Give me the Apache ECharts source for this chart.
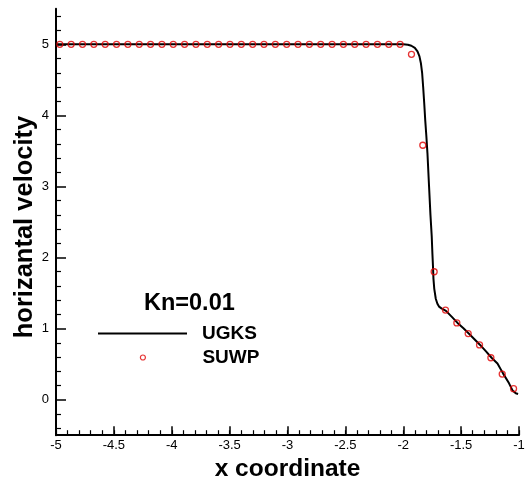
<!DOCTYPE html>
<html>
<head>
<meta charset="utf-8">
<script src="https://cdn.jsdelivr.net/npm/echarts@6.0.0/dist/echarts.min.js"></script>
<style>html,body{margin:0;padding:0;background:#fff}#c{width:526px;height:479px}</style>
</head>
<body>
<div id="c"></div>
<script>
// UGKS solution curve
var ugksX = [-5.0, -4.0, -3.0, -2.5, -2.1, -2.0, -1.96, -1.93, -1.90, -1.877, -1.86, -1.847, -1.837, -1.828, -1.818, -1.81, -1.80, -1.791, -1.777, -1.765, -1.754, -1.748, -1.743, -1.739, -1.732, -1.719, -1.705, -1.691, -1.67, -1.631, -1.58, -1.531, -1.48, -1.434, -1.385, -1.336, -1.285, -1.237, -1.186, -1.138, -1.086, -1.056, -1.028, -1.008];
var ugksY = [5.0, 5.0, 5.0, 5.0, 5.0, 5.0, 4.995, 4.98, 4.95, 4.90, 4.83, 4.73, 4.60, 4.40, 4.15, 3.93, 3.70, 3.47, 3.0, 2.6, 2.3, 2.05, 1.87, 1.70, 1.56, 1.42, 1.35, 1.31, 1.285, 1.25, 1.165, 1.08, 1.005, 0.93, 0.85, 0.77, 0.68, 0.59, 0.51, 0.37, 0.23, 0.13, 0.09, 0.08];
// SUWP samples
var suwpX = [-4.967, -4.869, -4.771, -4.673, -4.575, -4.477, -4.379, -4.281, -4.183, -4.085, -3.987, -3.889, -3.791, -3.693, -3.595, -3.497, -3.399, -3.301, -3.203, -3.105, -3.007, -2.909, -2.811, -2.713, -2.615, -2.517, -2.419, -2.321, -2.223, -2.125, -2.027, -1.929, -1.831, -1.733, -1.635, -1.537, -1.439, -1.341, -1.243, -1.145, -1.047];
var suwpY = [5.0, 5.0, 5.0, 5.0, 5.0, 5.0, 5.0, 5.0, 5.0, 5.0, 5.0, 5.0, 5.0, 5.0, 5.0, 5.0, 5.0, 5.0, 5.0, 5.0, 5.0, 5.0, 5.0, 5.0, 5.0, 5.0, 5.0, 5.0, 5.0, 5.0, 5.0, 4.86, 3.58, 1.80, 1.26, 1.08, 0.93, 0.77, 0.59, 0.36, 0.155];
// axis ticks
var yMajorTicks = [0, 1, 2, 3, 4, 5];
var yMinorTicks = [-0.4, -0.2, 0.2, 0.4, 0.6, 0.8, 1.2, 1.4, 1.6, 1.8, 2.2, 2.4, 2.6, 2.8, 3.2, 3.4, 3.6, 3.8, 4.2, 4.4, 4.6, 4.8, 5.2, 5.4];
var seriesNames = ['UGKS', 'SUWP'];
var annotation = 'Kn=0.01';
var xTitle = 'x coordinate';
var yTitle = 'horizantal velocity';

function zip(a, b) { return a.map(function (v, i) { return [v, b[i]]; }); }

var FONT = '"Liberation Sans", Arial, Helvetica, sans-serif';
var RED = '#e00000';
var chart = echarts.init(document.getElementById('c'), null, {renderer: 'canvas'});
chart.setOption({
  animation: false,
  backgroundColor: '#fff',
  grid: {left: 56, right: 7, top: 8.8, bottom: 43.8, outerBoundsMode: 'none'},
  title: {
    text: annotation, left: 139, top: 287,
    textStyle: {fontFamily: FONT, fontSize: 23.5, fontWeight: 'bold', color: '#000'}
  },
  legend: [
    {data: [{name: seriesNames[0], icon: 'rect', itemStyle: {color: '#000'}}],
     left: 98, top: 324, padding: 0, itemWidth: 89, itemHeight: 2,
     textStyle: {fontFamily: FONT, fontSize: 19, fontWeight: 'bold', color: '#000', padding: [0, 0, 0, 10]}},
    {data: [{name: seriesNames[1], icon: 'circle', itemStyle: {color: 'rgba(0,0,0,0)', borderColor: RED, borderWidth: 1.2}}],
     left: 139.8, top: 348, padding: 0, itemWidth: 5, itemHeight: 5,
     textStyle: {fontFamily: FONT, fontSize: 19, fontWeight: 'bold', color: '#000', padding: [0, 0, 0, 52]}}
  ],
  xAxis: [
    {
      type: 'value', min: -5, max: -1, interval: 0.1,
      axisLine: {show: true, onZero: false, lineStyle: {color: '#000', width: 2}},
      axisTick: {show: true, inside: true, length: 5, lineStyle: {color: '#000', width: 1.2}},
      axisLabel: {show: false},
      splitLine: {show: false}
    },
    {
      type: 'value', min: -5, max: -1, interval: 0.5, position: 'bottom', offset: 0,
      name: xTitle, nameLocation: 'middle', nameGap: 9,
      nameTextStyle: {fontFamily: FONT, fontSize: 24.5, fontWeight: 'bold', color: '#000'},
      axisLine: {show: false, onZero: false},
      axisTick: {show: true, inside: true, length: 9, lineStyle: {color: '#000', width: 1.5}},
      axisLabel: {fontFamily: FONT, fontSize: 13, color: '#000', margin: 4},
      splitLine: {show: false}
    }
  ],
  yAxis: [
    {
      type: 'value', min: -0.5, max: 5.5, position: 'left',
      axisLine: {show: true, onZero: false, lineStyle: {color: '#000', width: 2}},
      axisTick: {show: true, inside: true, length: 5, customValues: yMinorTicks, lineStyle: {color: '#000', width: 1.2}},
      axisLabel: {show: false},
      splitLine: {show: false}
    },
    {
      type: 'value', min: -0.5, max: 5.5, position: 'left', offset: 0,
      axisLine: {show: false, onZero: false},
      axisTick: {show: true, inside: true, length: 10, customValues: yMajorTicks, lineStyle: {color: '#000', width: 1.5}},
      axisLabel: {customValues: yMajorTicks, fontFamily: FONT, fontSize: 13, color: '#000', margin: 7},
      splitLine: {show: false}
    }
  ],
  graphic: [{
    type: 'text', x: 25, y: 227, rotation: Math.PI / 2,
    style: {text: yTitle, fontFamily: FONT, fontSize: 25.5, fontWeight: 'bold', fill: '#000', align: 'center', verticalAlign: 'middle'}
  }],
  series: [
    {name: seriesNames[0], type: 'line', data: zip(ugksX, ugksY), symbol: 'none', smooth: false,
     lineStyle: {color: '#000', width: 2}, itemStyle: {color: '#000'}, z: 2},
    {name: seriesNames[1], type: 'scatter', data: zip(suwpX, suwpY), symbol: 'circle', symbolSize: 6,
     itemStyle: {color: 'rgba(0,0,0,0)', borderColor: RED, borderWidth: 1.3}, z: 3}
  ]
});
</script>
</body>
</html>
